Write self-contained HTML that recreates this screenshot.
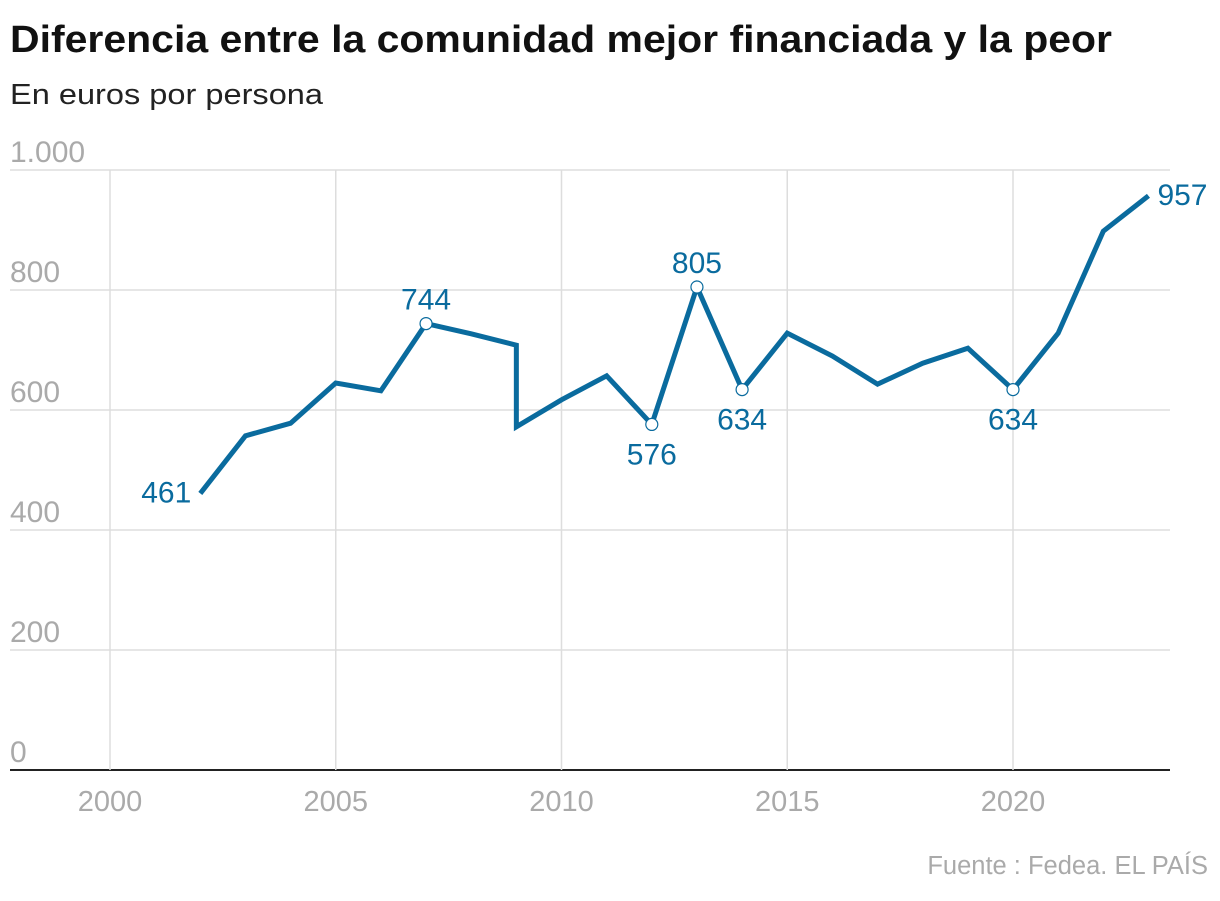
<!DOCTYPE html>
<html><head><meta charset="utf-8"><style>
body{margin:0;background:#fff;width:1220px;height:896px;overflow:hidden;font-family:"Liberation Sans",sans-serif}
</style></head><body>
<svg width="1220" height="896">
<text x="10" y="52" font-size="38" font-weight="bold" fill="#111" textLength="1102" lengthAdjust="spacingAndGlyphs">Diferencia entre la comunidad mejor financiada y la peor</text>
<text x="10" y="104" font-size="29" fill="#222" textLength="313" lengthAdjust="spacingAndGlyphs">En euros por persona</text>
<g id="grid"></g><g id="marks"></g>
<text x="1208" y="874" font-size="25.5" fill="#aaa" text-anchor="end">Fuente : Fedea. EL PAÍS</text>
</svg>
<script>
const years=[2002,2003,2004,2005,2006,2007,2008,2009,2009,2010,2011,2012,2013,2014,2015,2016,2017,2018,2019,2020,2021,2022,2023];
const values=[461,557,578,645,632,744,727,708,572,617,657,576,805,634,728,690,643,678,703,634,728,898,957];
const yTicks=[0,200,400,600,800,1000];
const yTickLabels=["0","200","400","600","800","1.000"];
const xTicks=[2000,2005,2010,2015,2020];
const annotations=[{i:0,pos:"left",c:false},{i:5,pos:"above",c:true},{i:11,pos:"below",c:true},{i:12,pos:"above",c:true},{i:13,pos:"below",c:true},{i:19,pos:"below",c:true},{i:22,pos:"right",c:false}];
const X=y=>110+(y-2000)*45.15, Y=v=>770-v*0.6;
const NS="http://www.w3.org/2000/svg";
const grid=document.getElementById('grid'), marks=document.getElementById('marks');
function mk(p,tag,a,t){const e=document.createElementNS(NS,tag);for(const k in a)e.setAttribute(k,a[k]);if(t!=null)e.textContent=t;p.appendChild(e);return e;}
yTicks.forEach((v,i)=>{
 const l=mk(grid,'line',{x1:10,x2:1170,y1:Y(v),y2:Y(v),stroke:v===0?'#222':'#ddd','stroke-width':v===0?2:1.5});
 
 
 const t=mk(grid,'text',{x:10,y:Y(v)-8,'font-size':30,fill:'#aaa'},yTickLabels[i]);
 
 
});
xTicks.forEach(yr=>{
 const l=mk(grid,'line',{x1:X(yr),x2:X(yr),y1:Y(1000),y2:Y(0),stroke:'#ddd','stroke-width':1.5});
 
 
 const t=mk(grid,'text',{x:X(yr),y:811,'font-size':29,fill:'#aaa','text-anchor':'middle'},yr);
 
 
});
const d=years.map((y,i)=>(i?'L':'M')+X(y)+','+Y(values[i])).join(' ');
const p=mk(marks,'path',{d:d,fill:'none',stroke:'#0a6b9e','stroke-width':5,'stroke-linejoin':'miter'});


annotations.forEach(a=>{
 const x=X(years[a.i]),y=Y(values[a.i]);
 if(a.c){const c=mk(marks,'circle',{cx:x,cy:y,r:6,fill:'#fff',stroke:'#0a6b9e','stroke-width':1.2});
  
  }
 let tx=x,ty=y,anc='middle';
 if(a.pos==='above')ty=y-14;else if(a.pos==='below')ty=y+40;else if(a.pos==='left'){tx=x-9;ty=y+9;anc='end';}else{tx=x+9;ty=y+9;anc='start';}
 const t=mk(marks,'text',{x:tx,y:ty,'font-size':30,fill:'#0a6b9e','text-anchor':anc},values[a.i]);
 
 
});
</script>
</body></html>
